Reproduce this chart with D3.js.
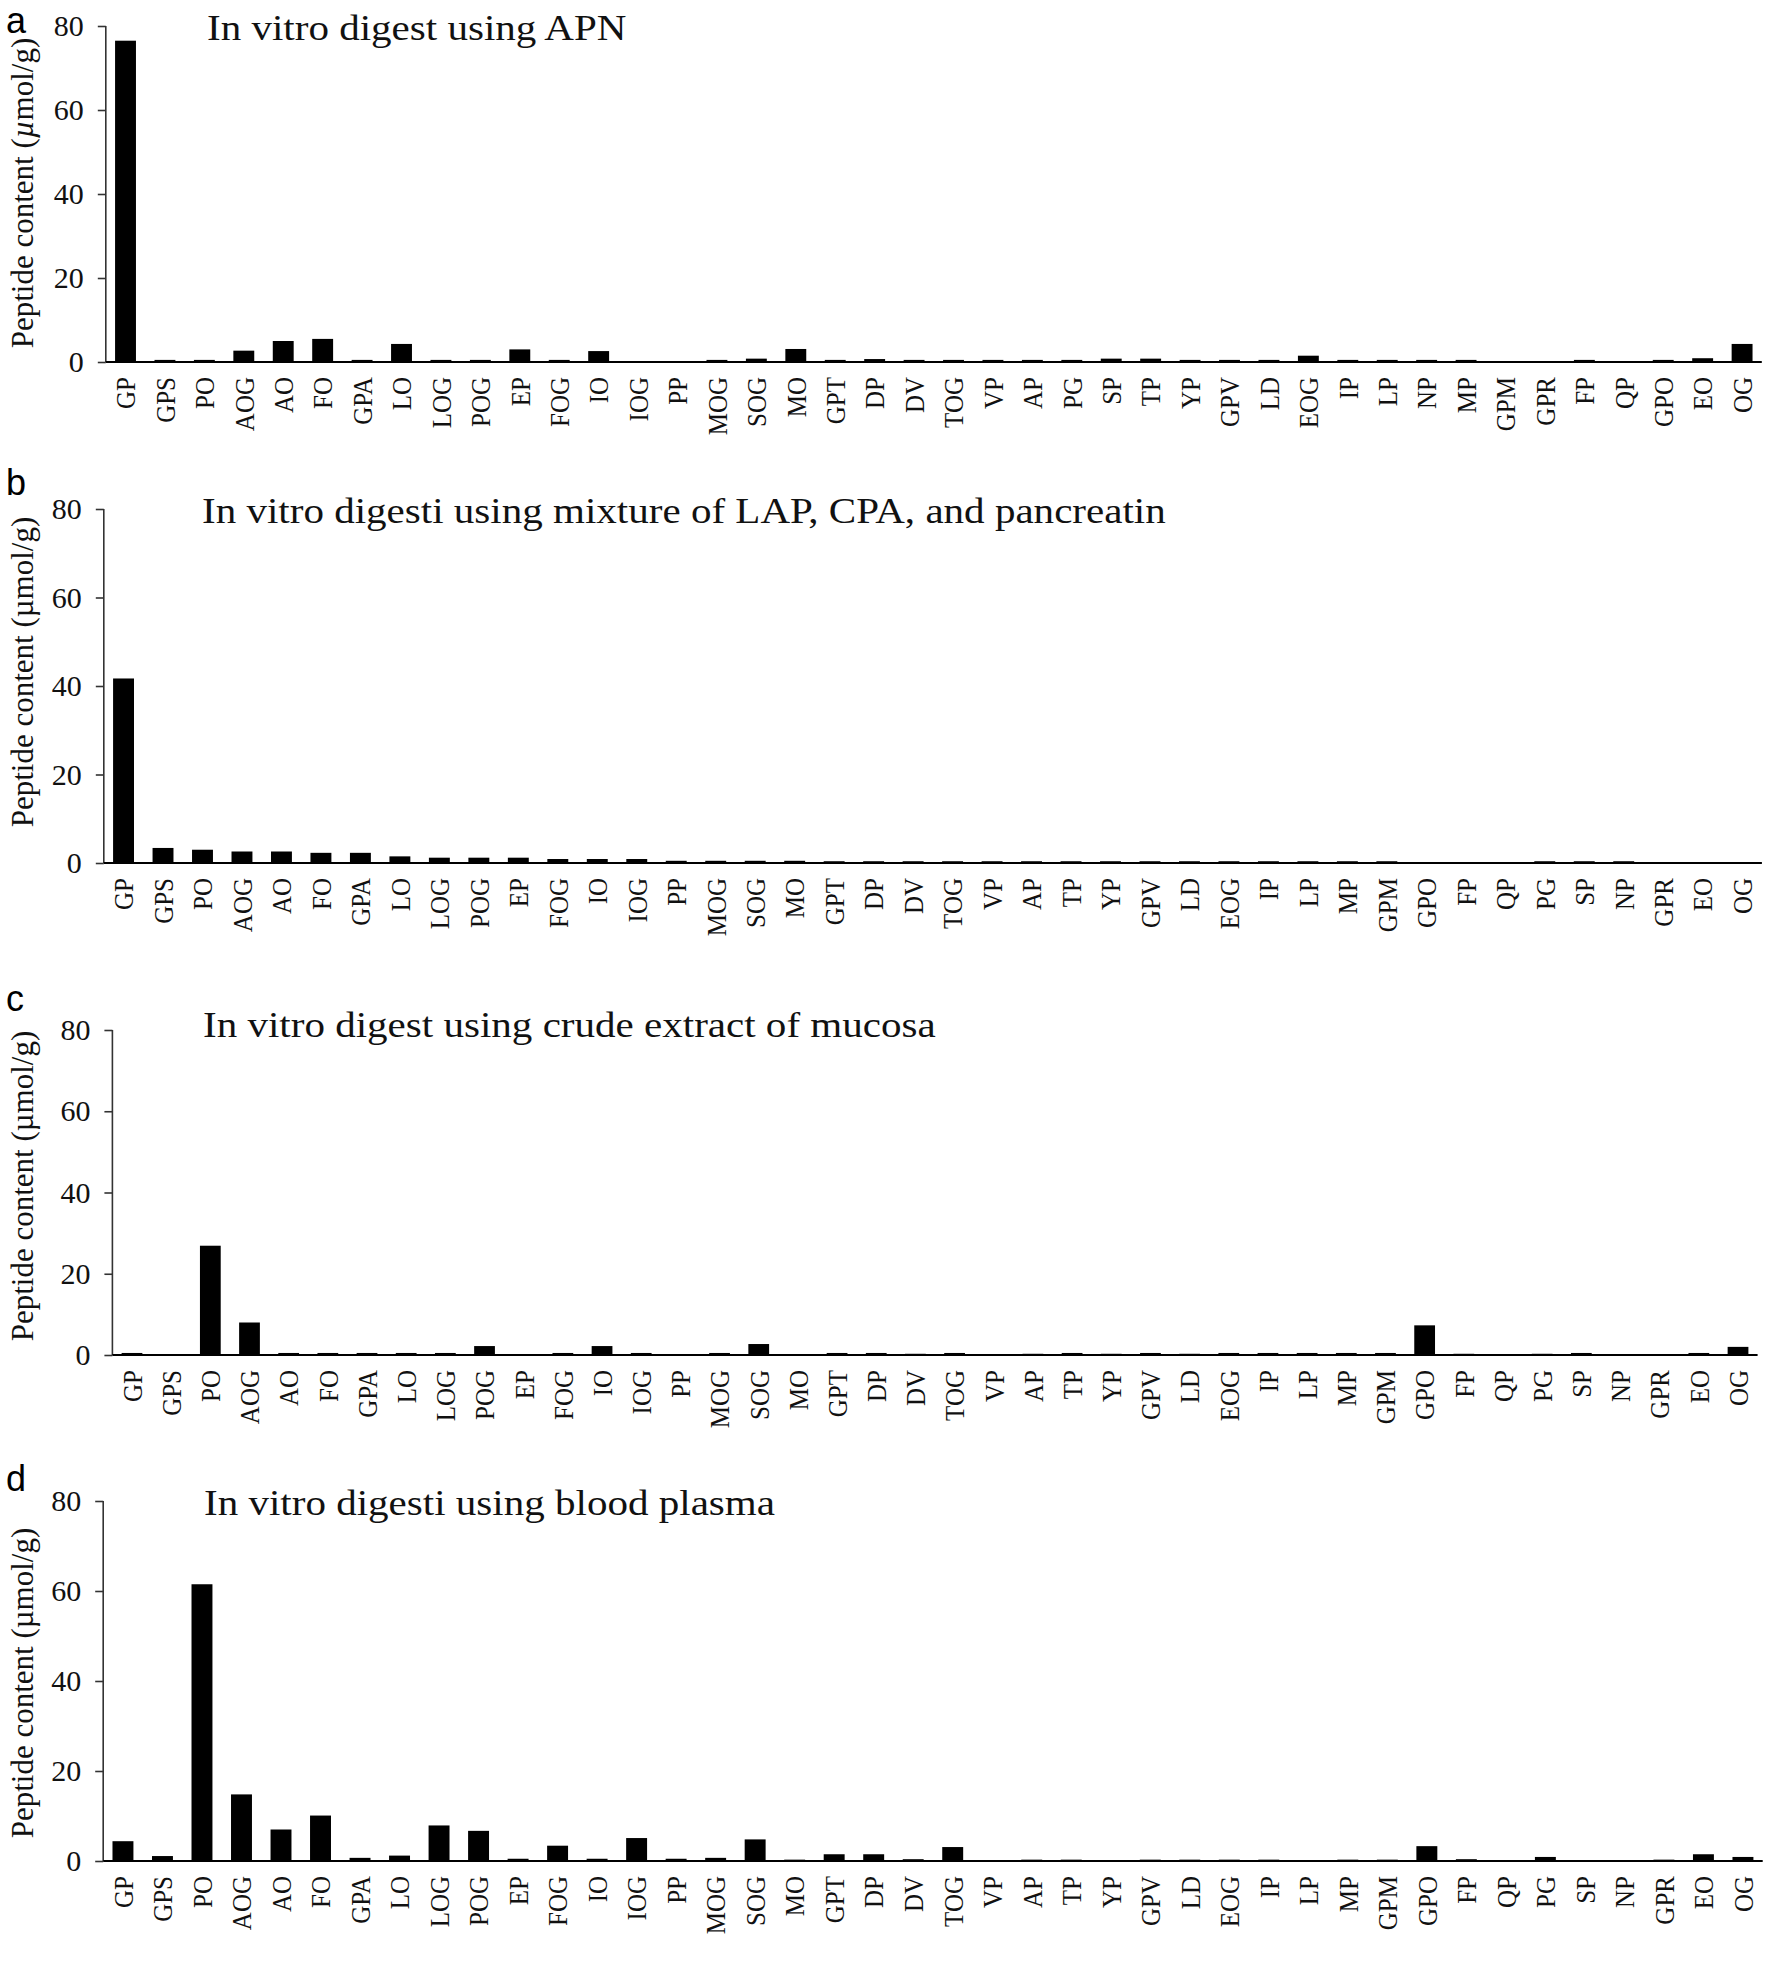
<!DOCTYPE html>
<html><head><meta charset="utf-8">
<script src="https://cdn.jsdelivr.net/npm/d3@7"></script>
<style>
html,body{margin:0;padding:0;background:#fff;}
svg{display:block;}
</style></head>
<body>
<svg id="chart" width="1772" height="1970"></svg>
<script>
// ---------- DATA ----------
const categoriesA = ["GP","GPS","PO","AOG","AO","FO","GPA","LO","LOG","POG","EP","FOG","IO","IOG","PP","MOG","SOG","MO","GPT","DP","DV","TOG","VP","AP","PG","SP","TP","YP","GPV","LD","EOG","IP","LP","NP","MP","GPM","GPR","FP","QP","GPO","EO","OG"];
const categoriesBCD = ["GP","GPS","PO","AOG","AO","FO","GPA","LO","LOG","POG","EP","FOG","IO","IOG","PP","MOG","SOG","MO","GPT","DP","DV","TOG","VP","AP","TP","YP","GPV","LD","EOG","IP","LP","MP","GPM","GPO","FP","QP","PG","SP","NP","GPR","EO","OG"];

const valuesA = [76.5,0.5,0.5,2.7,5.0,5.5,0.5,4.3,0.5,0.5,3.0,0.5,2.6,0,0,0.5,0.8,3.1,0.5,0.7,0.5,0.5,0.5,0.5,0.5,0.8,0.8,0.5,0.5,0.5,1.5,0.5,0.5,0.5,0.5,0,0,0.5,0,0.5,0.9,4.3];
const valuesB = [41.7,3.4,3.0,2.6,2.6,2.3,2.3,1.5,1.2,1.2,1.2,0.9,0.9,0.9,0.5,0.5,0.5,0.5,0.4,0.4,0.4,0.4,0.4,0.4,0.4,0.4,0.4,0.4,0.4,0.4,0.4,0.4,0.4,0,0,0,0.4,0.4,0.4,0,0,0];
const valuesC = [0.5,0.2,26.9,8.0,0.5,0.5,0.5,0.5,0.5,2.2,0.2,0.5,2.2,0.5,0,0.5,2.7,0,0.5,0.5,0.3,0.5,0,0.3,0.5,0.3,0.5,0.3,0.5,0.5,0.5,0.5,0.5,7.3,0.3,0,0.3,0.5,0,0,0.5,2.0];
const valuesD = [4.4,1.1,61.5,14.8,7.0,10.1,0.7,1.2,7.9,6.7,0.5,3.4,0.5,5.1,0.5,0.7,4.8,0.3,1.5,1.5,0.4,3.1,0,0.3,0.3,0,0.3,0.3,0.3,0.3,0,0.3,0.3,3.3,0.4,0,0.9,0,0,0.3,1.5,0.9];

const titles = ["In vitro digest using APN","In vitro digesti using mixture of LAP, CPA, and pancreatin","In vitro digest using crude extract of mucosa","In vitro digesti using blood plasma"];
const panelLetters = ["a","b","c","d"];
const yTickValues = [0,20,40,60,80];

// ---------- LAYOUT ----------
const panels = [
  {cats: categoriesA,   vals: valuesA, x0: 105.8, x1: 1761.8, yTop: 26,   yBase: 362,  italicMu: true,  letterY: 33,   titleX: 207, titleY: 40,   labelY: 193},
  {cats: categoriesBCD, vals: valuesB, x0: 103.8, x1: 1761.9, yTop: 509,  yBase: 863,  italicMu: false, letterY: 495,  titleX: 202, titleY: 523,  labelY: 672},
  {cats: categoriesBCD, vals: valuesC, x0: 112.4, x1: 1757.6, yTop: 1030, yBase: 1355, italicMu: false, letterY: 1011, titleX: 203, titleY: 1037, labelY: 1186},
  {cats: categoriesBCD, vals: valuesD, x0: 103.2, x1: 1762.7, yTop: 1501, yBase: 1861, italicMu: false, letterY: 1491, titleX: 204, titleY: 1515, labelY: 1683}
];

const serif = "'Liberation Serif','Times New Roman',serif";
const sans = "'Liberation Sans',Arial,sans-serif";
const stretch = 1.14;   // the source figure is drawn slightly wider than tall
const svg = d3.select("#chart");

panels.forEach((p, pi) => {
  const g = svg.append("g");
  const x = d3.scaleBand().domain(p.cats).range([p.x0, p.x1]).paddingInner(0.47).paddingOuter(0.235);
  const y = d3.scaleLinear().domain([0, 80]).range([p.yBase, p.yTop]);

  // bars
  g.selectAll("rect.bar").data(p.cats.map((c, i) => ({c, v: p.vals[i]})).filter(d => d.v > 0))
    .join("rect").attr("class", "bar")
    .attr("x", d => x(d.c)).attr("width", x.bandwidth())
    .attr("y", d => y(d.v)).attr("height", d => y(0) - y(d.v))
    .attr("fill", "#000");

  // y axis
  const ya = g.append("g").attr("transform", `translate(${p.x0},0)`)
    .call(d3.axisLeft(y).tickValues(yTickValues).tickSize(8).tickPadding(14).tickFormat(d3.format("d")));
  ya.select(".domain").attr("stroke", "#333").attr("stroke-width", 1.6).attr("d", `M0,${y(80)}V${y(0)}`);
  ya.selectAll(".tick line").attr("stroke", "#333").attr("stroke-width", 1.6);
  ya.selectAll(".tick text").attr("font-family", serif).attr("font-size", 30).attr("fill", "#111");

  // x axis
  const xa = g.append("g").attr("transform", `translate(0,${p.yBase})`)
    .call(d3.axisBottom(x).tickSize(0).tickPadding(0));
  xa.select(".domain").attr("stroke", "#000").attr("stroke-width", 2.2).attr("d", `M${p.x0},0H${p.x1}`);
  xa.selectAll(".tick text")
    .attr("font-family", serif).attr("font-size", 25).attr("fill", "#111")
    .attr("text-anchor", "end").attr("dy", "0.35em")
    .attr("transform", `translate(0,15) scale(1.12,1) rotate(-90)`)
    .attr("x", 0).attr("y", 0);

  // title
  g.append("text").attr("transform", `translate(${p.titleX},${p.titleY}) scale(${stretch},1)`)
    .attr("font-family", serif).attr("font-size", 36).attr("fill", "#111").text(titles[pi]);

  // panel letter
  g.append("text").attr("x", 6).attr("y", p.letterY)
    .attr("font-family", sans).attr("font-size", 36).attr("fill", "#000").text(panelLetters[pi]);

  // y label
  const lab = g.append("text")
    .attr("transform", `translate(33,${p.labelY}) rotate(-90)`)
    .attr("text-anchor", "middle")
    .attr("font-family", serif).attr("font-size", 31).attr("fill", "#111");
  lab.append("tspan").text("Peptide content (");
  lab.append("tspan").attr("font-style", p.italicMu ? "italic" : "normal").text("\u00b5");
  lab.append("tspan").text("mol/g)");
});
</script>
</body></html>
